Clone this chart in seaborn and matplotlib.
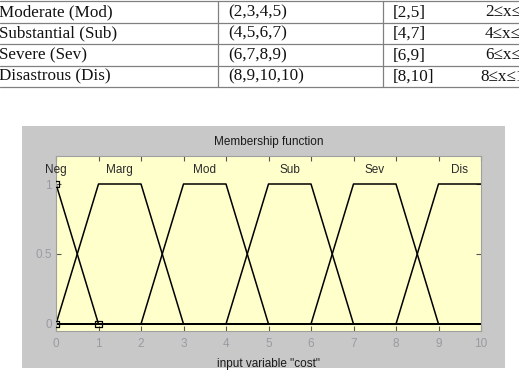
import numpy as np
import pandas as pd
import matplotlib
matplotlib.use("Agg")
import matplotlib.pyplot as plt
import seaborn as sns
from matplotlib.patches import Rectangle
from matplotlib.lines import Line2D

# ---------------- data ----------------
table_terms = ["Moderate (Mod)", "Substantial (Sub)", "Severe (Sev)", "Disastrous (Dis)"]
table_params = ["(2,3,4,5)", "(4,5,6,7)", "(6,7,8,9)", "(8,9,10,10)"]
table_support = ["[2,5]", "[4,7]", "[6,9]", "[8,10]"]
table_range = ["2\u2264x\u22645", "4\u2264x\u22647", "6\u2264x\u22649", "8\u2264x\u226410"]

mf_names = ["Neg", "Marg", "Mod", "Sub", "Sev", "Dis"]
mf_params = [[0, 0, 0, 1], [0, 1, 2, 3], [2, 3, 4, 5],
             [4, 5, 6, 7], [6, 7, 8, 9], [8, 9, 10, 10]]
x_range = [0, 10]
x_ticks = list(range(0, 11))
y_ticks = [0, 0.5, 1]
y_ticklabels = ["0", "0.5", "1"]
selected_mf = "Neg"

# ---------------- figure ----------------
sns.set_style("ticks")
plt.rcParams["font.family"] = ["Liberation Sans", "DejaVu Sans"]

W, H = 519, 372
fig = plt.figure(figsize=(W / 100, H / 100), dpi=100)
fig.patch.set_facecolor("white")


def fx(x):
    return x / W


def fy(y):
    return 1 - y / H


# ---------------- table (top) ----------------
row_lines = [1, 22.5, 44, 65.5, 87]
line_col = "#808080"
for y in row_lines:
    fig.add_artist(Line2D([0, 1], [fy(y)] * 2, color=line_col, lw=0.9))
for x in [218, 383]:
    fig.add_artist(Line2D([fx(x)] * 2, [fy(row_lines[0]), fy(row_lines[-1])], color=line_col, lw=0.9))

serif = ["Liberation Serif", "DejaVu Serif"]
tsize = 12.3
for i in range(len(table_terms)):
    yc = fy((row_lines[i] + row_lines[i + 1]) / 2 + 0.5)
    fig.text(fx(-1), yc, table_terms[i], family=serif, size=tsize, va="center", ha="left", color="#111111")
    fig.text(fx(228), yc, table_params[i], family=serif, size=tsize, va="center", ha="left", color="#111111")
    fig.text(fx(393), yc, table_support[i], family=serif, size=tsize, va="center", ha="left", color="#111111")
    fig.text(fx(507), yc, table_range[i], family=serif, size=tsize, va="center", ha="center", color="#111111")

# ---------------- MATLAB-like panel ----------------
fig.add_artist(Rectangle((fx(22), fy(368)), fx(505) - fx(22), fy(126) - fy(368),
                         facecolor="#c8c8c8", edgecolor="none", zorder=-5,
                         transform=fig.transFigure))

ax = fig.add_axes([fx(56), fy(331), fx(481) - fx(56), fy(156) - fy(331)])
ax.set_facecolor("#ffffcc")

rows = []
for name, (a, b, c, d) in zip(mf_names, mf_params):
    pts = [(x_range[0], 0), (a, 0), (b, 1), (c, 1), (d, 0), (x_range[1], 0)]
    if d == x_range[1] and c == x_range[1]:
        pts = pts[:4]
    for k, (px, py) in enumerate(pts):
        rows.append({"mf": name, "order": k, "x": px, "y": py})
df = pd.DataFrame(rows)

sns.lineplot(data=df, x="x", y="y", units="mf", estimator=None, sort=False,
             color="black", lw=1.1, ax=ax, legend=False)

sel = mf_params[mf_names.index(selected_mf)]
sel_df = pd.DataFrame({"x": [sel[0], sel[1], sel[3]], "y": [0, 1, 0]})
sns.scatterplot(data=sel_df, x="x", y="y", marker="s", s=22, facecolor="none",
                edgecolor="black", linewidth=0.9, ax=ax, zorder=5)

for name, (a, b, c, d) in zip(mf_names, mf_params):
    ax.text((b + c) / 2, 1.1, name, ha="center", va="center", fontsize=8.5, color="#2a2a2a")

ax.set_xlim(*x_range)
ax.set_ylim(-0.05, 1.2)
ax.set_xticks(x_ticks)
ax.set_xticklabels([str(t) for t in x_ticks])
ax.set_yticks(y_ticks)
ax.set_yticklabels(y_ticklabels)
ax.tick_params(direction="in", top=True, right=True, length=3.5, width=0.8,
               color="#555555", labelcolor="#9a9aa2", labelsize=8.5)
ax.tick_params(axis="x", pad=5)
ax.tick_params(axis="y", pad=3)
for s in ax.spines.values():
    s.set_color("#a0a0a0")
    s.set_linewidth(0.8)

ax.set_title("Membership function", fontsize=8.5, color="#1a1a1a", pad=8)
ax.set_xlabel('input variable "cost"', fontsize=8.5, color="#1a1a1a", labelpad=6)
ax.set_ylabel("")

fig.savefig("out.png", dpi=100)
